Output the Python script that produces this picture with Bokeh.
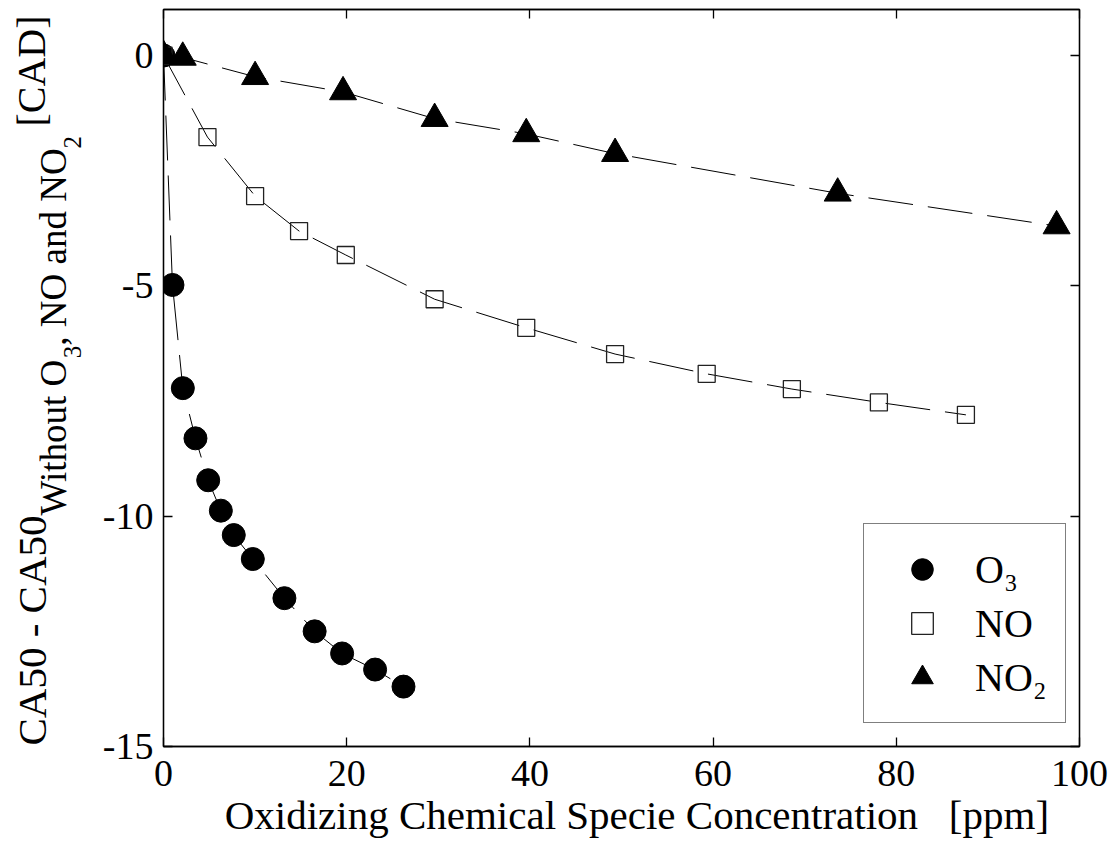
import math
from bokeh.plotting import figure
from bokeh.layouts import row
from bokeh.models import Range1d, LinearAxis, FixedTicker, Label, Legend, LegendItem
from bokeh.embed import file_html
from bokeh.resources import INLINE

# ---------------- data ----------------
o3_x = [0, 0.98, 2.11, 3.49, 4.88, 6.26, 7.67, 9.75, 13.2, 16.5, 19.5, 23.1, 26.2]
o3_y = [0, -4.98, -7.22, -8.31, -9.22, -9.88, -10.41, -10.93, -11.78, -12.5, -12.98, -13.33, -13.7]

no_x = [0, 4.8, 10.0, 14.8, 19.9, 29.6, 39.6, 49.3, 59.3, 68.6, 78.1, 87.6]
no_y = [0, -1.77, -3.05, -3.81, -4.33, -5.29, -5.91, -6.48, -6.91, -7.24, -7.53, -7.80]

no2_x = [0, 2.1, 10.0, 19.6, 29.6, 39.6, 49.3, 73.6, 97.5]
no2_y = [0, -0.04, -0.46, -0.79, -1.37, -1.70, -2.13, -2.99, -3.70]

x_ticks = [0, 20, 40, 60, 80, 100]
y_ticks = [0, -5, -10, -15]
y_tick_labels = {0: "0", -5: "-5", -10: "-10", -15: "-15"}
series_labels = ["O\u2083", "NO", "NO\u2082"]
x_label = "\u00a0\u00a0\u00a0Oxidizing Chemical Specie Concentration \u00a0 [ppm]"

FONT = "Liberation Serif"

p = figure(width=1015, height=846, output_backend="svg", toolbar_location=None,
           x_range=Range1d(0, 100), y_range=Range1d(-15, 1),
           min_border_left=68, min_border_right=31, min_border_top=9, min_border_bottom=100,
           x_axis_type=None, y_axis_type=None)
p.grid.visible = False
p.outline_line_color = "black"
p.outline_line_width = 1.3
p.background_fill_color = "white"
p.border_fill_color = "white"


def style_axis(ax, ticks, show_labels):
    ax.ticker = FixedTicker(ticks=ticks)
    ax.minor_tick_line_color = None
    ax.major_tick_in = 9
    ax.major_tick_out = 0
    ax.axis_line_color = "black"
    ax.axis_line_width = 1.3
    ax.major_tick_line_color = "black"
    ax.major_tick_line_width = 1.3
    ax.major_label_text_font = FONT
    ax.major_label_text_color = "black"
    ax.axis_label_text_font = FONT
    ax.axis_label_text_font_style = "normal"
    ax.axis_label_text_color = "black"
    if show_labels:
        ax.major_label_text_font_size = "38px"
    else:
        ax.major_label_text_font_size = "1px"
        ax.major_label_text_color = None
        ax.major_label_standoff = 0


xb = LinearAxis()
style_axis(xb, x_ticks, True)
xb.major_label_standoff = 14
xb.axis_label = x_label
xb.axis_label_text_font_size = "41px"
xb.axis_label_standoff = 3
p.add_layout(xb, "below")

yl = LinearAxis()
style_axis(yl, y_ticks, True)
yl.major_label_standoff = 10
yl.major_label_overrides = y_tick_labels
p.add_layout(yl, "left")

xt = LinearAxis()
style_axis(xt, x_ticks, False)
p.add_layout(xt, "above")

yr = LinearAxis()
style_axis(yr, y_ticks, False)
p.add_layout(yr, "right")

DASH = "45 15"
p.line(o3_x, o3_y, line_color="black", line_width=1, line_dash=DASH)
p.line(no_x, no_y, line_color="black", line_width=1, line_dash=DASH)
p.line(no2_x, no2_y, line_color="black", line_width=1, line_dash=DASH)

r_o3 = p.scatter(o3_x, o3_y, marker="circle", size=23, fill_color="black", line_color="black")
r_no = p.scatter(no_x, no_y, marker="square", size=17, fill_color=None, line_color="#222222", line_width=1.3)
r_no2 = p.scatter(no2_x, no2_y, marker="triangle", size=27, fill_color="black", line_color="black")

legend = Legend(items=[LegendItem(label=series_labels[0], renderers=[r_o3]),
                       LegendItem(label=series_labels[1], renderers=[r_no]),
                       LegendItem(label=series_labels[2], renderers=[r_no2])],
                location=(700, 23), orientation="vertical")
legend.padding = 18
legend.spacing = 0
legend.margin = 0
legend.glyph_width = 80
legend.glyph_height = 54
legend.label_height = 54
legend.label_standoff = 13
legend.label_text_font = FONT
legend.label_text_font_size = "40px"
legend.label_text_color = "black"
legend.label_text_baseline = "middle"
legend.border_line_color = "black"
legend.border_line_width = 1.3
legend.background_fill_color = "white"
legend.background_fill_alpha = 1
p.add_layout(legend, "center")

# ---------------- rotated y-axis title with subscripts (own narrow panel) ----------------
TW = {"W": 944, "i": 278, "t": 278, "h": 500, "o": 500, "u": 500, " ": 250, "O": 722, ",": 250,
      "N": 722, "a": 444, "n": 500, "d": 500, "3": 500, "2": 500, "C": 667, "A": 722, "5": 500,
      "0": 500, "-": 333, "[": 333, "]": 333, "D": 722}


def tw(s, size):
    return sum(TW.get(c, 500) for c in s) * size / 1000.0


# panel's frame is aligned with the main frame (image rows 9..746) -> identity mapping
tf = figure(width=95, height=846, output_backend="svg", toolbar_location=None,
            x_range=Range1d(0, 95), y_range=Range1d(746, 9), min_border=0,
            min_border_left=0, min_border_right=0, min_border_top=9, min_border_bottom=100,
            x_axis_type=None, y_axis_type=None)
tf.grid.visible = False
tf.outline_line_color = None
tf.background_fill_color = "white"
tf.border_fill_color = "white"

pieces = [  # text, font size, baseline x anchor
    ("CA50 - CA50", 41, 31),
    ("Without O", 37, 53),
    ("3", 25, 72),
    (", NO and NO", 37, 53),
    ("2", 25, 72),
]
Y = 745
for txt, fs, bx in pieces:
    tf.add_layout(Label(x=bx, y=Y, text=txt, angle=math.pi / 2, text_align="left",
                        text_baseline="alphabetic", text_font=FONT, text_font_size=f"{fs}px",
                        text_color="black"))
    Y -= tw(txt, fs)

cad = "[CAD]"
tf.add_layout(Label(x=31, y=15 + tw(cad, 40), text=cad, angle=math.pi / 2, text_align="left",
                    text_baseline="alphabetic", text_font=FONT, text_font_size="40px",
                    text_color="black"))

layout = row(tf, p)
open("out.html", "w").write(file_html(layout, INLINE))
